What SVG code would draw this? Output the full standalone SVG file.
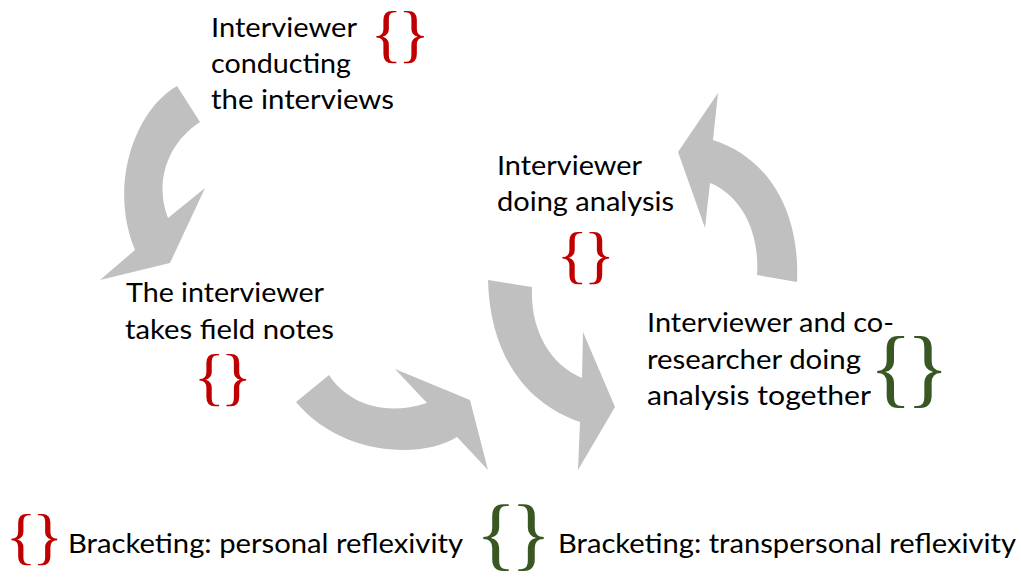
<svg xmlns="http://www.w3.org/2000/svg" width="1021" height="577" viewBox="0 0 1021 577">
  <style>
    .lbl { font-family: Lato, "Open Sans", "Liberation Sans", sans-serif; font-size: 26.5px; fill: #000; }
    .br { font-family: "Liberation Serif", "DejaVu Serif", serif; letter-spacing: -0.07em; }
    .red { fill: #C00000; }
    .grn { fill: #385723; }
    .arr { fill: #C0C0C0; stroke: none; }
  </style>
  <rect width="1021" height="577" fill="#ffffff"/>
  <g id="connectors">
    <path class="arr" d="M177,86 C135,110 108,185 135,250 L100,280 L170,263 L205,188 L168,218 C155,185 165,145 200,122 Z"/>
    <path class="arr" d="M329,375 C345,400 380,418 427,403 L395,369 L470,400 L488,470 L457,437 C420,460 340,455 296,402 Z"/>
    <path class="arr" d="M488,280 L532,287 C530,330 550,365 582,378 L583,332 L615,407 L578,470 L580,422 C530,405 490,360 488,280 Z"/>
    <path class="arr" d="M757,275 L797,282 C800,220 775,160 713,140 L718,93 L678,152 L705,228 L710,183 C740,195 760,230 757,275 Z"/>
  </g>
  <g id="node-conducting">
    <text class="lbl" x="211" y="37" textLength="146" lengthAdjust="spacingAndGlyphs">Interviewer</text>
    <text class="lbl" x="211" y="73" textLength="140" lengthAdjust="spacingAndGlyphs">conducting</text>
    <text class="lbl" x="211" y="109" textLength="183" lengthAdjust="spacingAndGlyphs">the interviews</text>
    <text class="br red" font-size="64" transform="translate(370.3,55.4) scale(1.05,1)">{}</text>
  </g>
  <g id="node-fieldnotes">
    <text class="lbl" x="126" y="302" textLength="198" lengthAdjust="spacingAndGlyphs">The interviewer</text>
    <text class="lbl" x="125" y="339" textLength="209" lengthAdjust="spacingAndGlyphs">takes field notes</text>
    <text class="br red" font-size="62.7" transform="translate(193.4,397.6) scale(1.05,1)">{}</text>
  </g>
  <g id="node-analysis">
    <text class="lbl" x="497" y="175" textLength="145" lengthAdjust="spacingAndGlyphs">Interviewer</text>
    <text class="lbl" x="497" y="211" textLength="177" lengthAdjust="spacingAndGlyphs">doing analysis</text>
    <text class="br red" font-size="62.7" transform="translate(556.4,275.6) scale(1.05,1)">{}</text>
  </g>
  <g id="node-together">
    <text class="lbl" x="647" y="332" textLength="247" lengthAdjust="spacingAndGlyphs">Interviewer and co-</text>
    <text class="lbl" x="647" y="369" textLength="214" lengthAdjust="spacingAndGlyphs">researcher doing</text>
    <text class="lbl" x="647" y="405" textLength="224" lengthAdjust="spacingAndGlyphs">analysis together</text>
    <text class="br grn" font-size="86" transform="translate(869,396.4) scale(1.05,1)">{}</text>
  </g>
  <g id="legend-personal">
    <text class="br red" font-size="61.6" transform="translate(5.5,556.9) scale(1.05,1)">{}</text>
    <text class="lbl" x="68" y="553" textLength="395" lengthAdjust="spacingAndGlyphs">Bracketing: personal reflexivity</text>
  </g>
  <g id="legend-transpersonal">
    <text class="br grn" font-size="81.3" transform="translate(475.5,560.3) scale(1.05,1)">{}</text>
    <text class="lbl" x="558" y="553" textLength="458" lengthAdjust="spacingAndGlyphs">Bracketing: transpersonal reflexivity</text>
  </g>
</svg>
